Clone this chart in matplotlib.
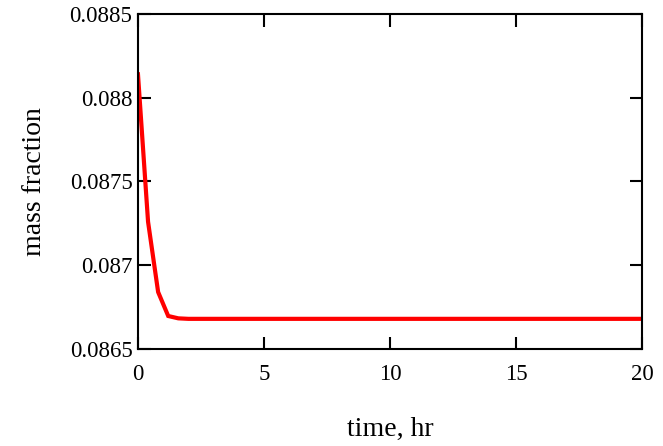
import matplotlib
matplotlib.use("Agg")
import matplotlib.pyplot as plt

plt.rcParams['font.family'] = ['Liberation Serif', 'DejaVu Serif']

# time in hours, mass fraction
time_hr = [0.0, 0.4, 0.8, 1.2, 1.6, 2.0, 4.0, 8.0, 12.0, 16.0, 20.0]
mass_frac = [0.08814, 0.08726, 0.08684, 0.086697, 0.086683, 0.08668,
             0.08668, 0.08668, 0.08668, 0.08668, 0.08668]

xticks = [0, 5, 10, 15, 20]
yticks = [0.0865, 0.087, 0.0875, 0.088, 0.0885]
ytick_labels = ['0.0865', '0.087', '0.0875', '0.088', '0.0885']

fig = plt.figure(figsize=(6.63, 4.46), dpi=100)
ax = fig.add_axes([0.2081, 0.2175, 0.7602, 0.7511])

ax.plot(time_hr, mass_frac, color='red', lw=3.0, solid_joinstyle='miter')

ax.set_xlim(0, 20)
ax.set_ylim(0.0865, 0.0885)
ax.set_xticks(xticks)
ax.set_xticklabels([str(t) for t in xticks])
ax.set_yticks(yticks)
ax.set_yticklabels(ytick_labels)

ax.tick_params(direction='in', length=9, width=1.5, labelsize=16.5,
               top=True, right=True)
ax.tick_params(axis='x', pad=11)
ax.tick_params(axis='y', pad=4)
for s in ax.spines.values():
    s.set_linewidth(1.5)

ax.set_xlabel('time, hr', fontsize=20, labelpad=23)
ax.set_ylabel('mass fraction', fontsize=20, labelpad=16)

plt.savefig('out.png', dpi=100)
